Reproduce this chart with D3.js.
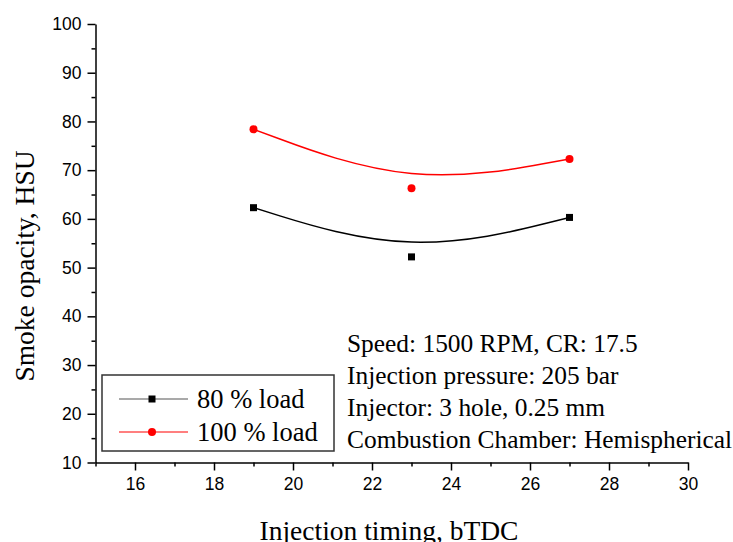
<!DOCTYPE html>
<html>
<head>
<meta charset="utf-8">
<script src="https://cdn.jsdelivr.net/npm/d3@7"></script>
<style>
  body { margin: 0; background: #fff; }
  .tick text { font-family: "Liberation Sans", Arial, sans-serif; font-size: 17.5px; fill: #000; }
  .serif { font-family: "Liberation Serif", "Times New Roman", serif; fill: #000; }
</style>
</head>
<body>
<svg id="chart" width="733" height="542"></svg>
<script>
// injection timing (deg bTDC)
const timing = [19, 23, 27];
// smoke opacity, HSU
const load80 = [62.3, 52.2, 60.3];
const load100 = [78.4, 66.3, 72.3];

const xTicks = [16, 18, 20, 22, 24, 26, 28, 30];
const yTicks = [10, 20, 30, 40, 50, 60, 70, 80, 90, 100];

const notes = [
  'Speed: 1500 RPM, CR: 17.5',
  'Injection pressure: 205 bar',
  'Injector: 3 hole, 0.25 mm',
  'Combustion Chamber: Hemispherical'
];

const series = [
  { name: '80 % load', values: load80, colour: '#000', shape: 'square' },
  { name: '100 % load', values: load100, colour: '#ff0000', shape: 'circle' }
];

const svg = d3.select('#chart');
const margin = { left: 95.5, right: 45, top: 24, bottom: 79.5 };
const width = +svg.attr('width');
const height = +svg.attr('height');
const innerWidth = width - margin.left - margin.right;
const innerHeight = height - margin.top - margin.bottom;

const chart = svg.append('g')
  .attr('transform', `translate(${margin.left},${margin.top})`);

const xScale = d3.scaleLinear().domain([15, 30]).range([0, innerWidth]);
const yScale = d3.scaleLinear().domain([10, 100]).range([innerHeight, 0]);

// minor ticks first, then major ones with labels
chart.append('g')
  .attr('transform', `translate(0,${innerHeight})`)
  .call(d3.axisBottom(xScale).tickValues(d3.range(15, 30, 2)).tickSize(4).tickFormat(''))
  .call(g => g.select('.domain').remove());
chart.append('g')
  .call(d3.axisLeft(yScale).tickValues(d3.range(15, 100, 10)).tickSize(4).tickFormat(''))
  .call(g => g.select('.domain').remove());

const xAxisG = chart.append('g')
  .attr('transform', `translate(0,${innerHeight})`)
  .call(d3.axisBottom(xScale).tickValues(xTicks).tickSize(8).tickSizeOuter(0).tickPadding(5));
const yAxisG = chart.append('g')
  .call(d3.axisLeft(yScale).tickValues(yTicks).tickSize(8).tickSizeOuter(0).tickPadding(6));

svg.selectAll('.domain, .tick line').attr('stroke', '#000').attr('stroke-width', 1.5);
xAxisG.selectAll('.tick text').attr('dy', '0.85em');

// axis titles
svg.append('text')
  .attr('class', 'serif')
  .attr('x', 389)
  .attr('y', 540)
  .attr('text-anchor', 'middle')
  .style('font-size', '27.5px')
  .text('Injection timing, bTDC');

svg.append('text')
  .attr('class', 'serif')
  .attr('transform', 'translate(34,266) rotate(-90)')
  .attr('text-anchor', 'middle')
  .style('font-size', '27.5px')
  .text('Smoke opacity, HSU');

// B-spline curves and markers
const line = d3.line()
  .x((d, i) => xScale(timing[i]))
  .y(d => yScale(d))
  .curve(d3.curveBasis);

series.forEach(s => {
  chart.append('path')
    .attr('d', line(s.values))
    .attr('fill', 'none')
    .attr('stroke', s.colour)
    .attr('stroke-width', 1.5);

  if (s.shape === 'square') {
    chart.selectAll(null).data(s.values).enter().append('rect')
      .attr('x', (d, i) => xScale(timing[i]) - 3.5)
      .attr('y', d => yScale(d) - 3.5)
      .attr('width', 7).attr('height', 7)
      .attr('fill', s.colour);
  } else {
    chart.selectAll(null).data(s.values).enter().append('circle')
      .attr('cx', (d, i) => xScale(timing[i]))
      .attr('cy', d => yScale(d))
      .attr('r', 4)
      .attr('fill', s.colour);
  }
});

// legend
const legend = svg.append('g').attr('transform', 'translate(102,375)');
legend.append('rect')
  .attr('width', 232).attr('height', 76)
  .attr('fill', '#fff').attr('stroke', '#333').attr('stroke-width', 1.5);

series.forEach((s, i) => {
  const row = legend.append('g').attr('transform', `translate(0,${24 + i * 33})`);
  row.append('line')
    .attr('x1', 17).attr('x2', 86)
    .attr('stroke', s.shape === 'square' ? '#555' : s.colour)
    .attr('stroke-width', 1.2);
  if (s.shape === 'square') {
    row.append('rect').attr('x', 46.5).attr('y', -3.5).attr('width', 7).attr('height', 7).attr('fill', s.colour);
  } else {
    row.append('circle').attr('cx', 50).attr('r', 4).attr('fill', s.colour);
  }
  row.append('text')
    .attr('class', 'serif')
    .attr('x', 95)
    .attr('y', 9)
    .style('font-size', '26.5px')
    .text(s.name);
});

// annotation text
svg.append('g')
  .selectAll('text')
  .data(notes)
  .enter().append('text')
    .attr('class', 'serif')
    .attr('x', 347)
    .attr('y', (d, i) => 352 + i * 32)
    .style('font-size', '25.4px')
    .text(d => d);
</script>
</body>
</html>
